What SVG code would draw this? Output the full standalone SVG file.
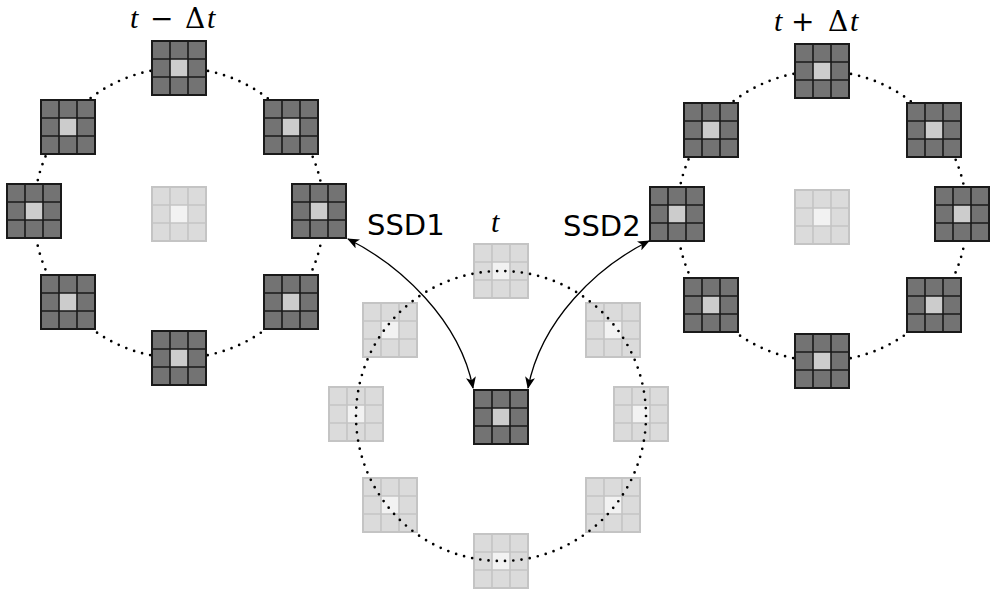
<svg xmlns="http://www.w3.org/2000/svg" xmlns:xlink="http://www.w3.org/1999/xlink" width="992" height="591" viewBox="0 0 992 591">
<style>
.dot{fill:none;stroke:#000;stroke-width:2.7;stroke-linecap:round;stroke-dasharray:0 8.282}
.arr{fill:none;stroke:#000;stroke-width:1.3;marker-start:url(#ah);marker-end:url(#ah)}
.faint{opacity:0.25}
.lbl{font-family:"DejaVu Sans",sans-serif;font-size:29px;fill:#000}
.it{font-family:"Liberation Serif",serif;font-style:italic;font-size:30px;fill:#000}
.op{font-family:"DejaVu Serif",serif;font-size:28px;fill:#000}
</style>
<defs>
<g id="patch">
<rect x="1" y="1" width="54" height="54" fill="#737373"/>
<rect x="19" y="19" width="18" height="18" fill="#cccccc"/>
<path d="M19 1V55M37 1V55M1 19H55M1 37H55" stroke="#1a1a1a" stroke-width="1.6" fill="none"/>
<rect x="1" y="1" width="54" height="54" fill="none" stroke="#1a1a1a" stroke-width="2"/>
</g>
<marker id="ah" viewBox="0 0 12 10" refX="11" refY="5" markerWidth="12" markerHeight="10" markerUnits="userSpaceOnUse" orient="auto-start-reverse">
<path d="M0 0L12 5L0 10L3 5Z" fill="#000"/>
</marker>
</defs>

<g id="group-t-minus">
<circle class="dot" cx="179" cy="213" r="145"/>
<use id="tm-top" xlink:href="#patch" x="151" y="40"/>
<use id="tm-ul" xlink:href="#patch" x="40" y="99"/>
<use id="tm-ur" xlink:href="#patch" x="263" y="99"/>
<use id="tm-l" xlink:href="#patch" x="6" y="183"/>
<use id="tm-r" xlink:href="#patch" x="291" y="183"/>
<use id="tm-ll" xlink:href="#patch" x="40" y="274"/>
<use id="tm-lr" xlink:href="#patch" x="263" y="274"/>
<use id="tm-b" xlink:href="#patch" x="151" y="330"/>
<use id="tm-c" class="faint" xlink:href="#patch" x="151" y="186"/>
<text class="it" x="130" y="28">t</text>
<text class="op" x="150" y="28">−</text>
<text class="op" x="185" y="28">Δ</text>
<text class="it" x="207" y="28">t</text>
</g>

<g id="group-t-plus">
<circle class="dot" cx="822" cy="216" r="145"/>
<use id="tp-top" xlink:href="#patch" x="794" y="43"/>
<use id="tp-ul" xlink:href="#patch" x="683" y="102"/>
<use id="tp-ur" xlink:href="#patch" x="906" y="102"/>
<use id="tp-l" xlink:href="#patch" x="649" y="186"/>
<use id="tp-r" xlink:href="#patch" x="934" y="186"/>
<use id="tp-ll" xlink:href="#patch" x="683" y="277"/>
<use id="tp-lr" xlink:href="#patch" x="906" y="277"/>
<use id="tp-b" xlink:href="#patch" x="794" y="333"/>
<use id="tp-c" class="faint" xlink:href="#patch" x="794" y="189"/>
<text class="it" x="774" y="31">t</text>
<text class="op" x="791" y="31">+</text>
<text class="op" x="828" y="31">Δ</text>
<text class="it" x="850" y="31">t</text>
</g>

<g id="group-t">
<use id="t-top" class="faint" xlink:href="#patch" x="473" y="243"/>
<use id="t-ul" class="faint" xlink:href="#patch" x="362" y="302"/>
<use id="t-ur" class="faint" xlink:href="#patch" x="585" y="302"/>
<use id="t-l" class="faint" xlink:href="#patch" x="328" y="386"/>
<use id="t-r" class="faint" xlink:href="#patch" x="613" y="386"/>
<use id="t-ll" class="faint" xlink:href="#patch" x="362" y="477"/>
<use id="t-lr" class="faint" xlink:href="#patch" x="585" y="477"/>
<use id="t-b" class="faint" xlink:href="#patch" x="473" y="533"/>
<circle class="dot" cx="501" cy="416" r="145"/>
<use id="t-c" xlink:href="#patch" x="473" y="389"/>
<text class="it" x="491" y="232">t</text>
</g>

<g id="connectors">
<path class="arr" d="M348 239C400 265 460 320 473 388"/>
<path class="arr" d="M649 241C597 267 541 320 528 388"/>
<text class="lbl" x="367" y="235">SSD1</text>
<text class="lbl" x="563" y="236">SSD2</text>
</g>
</svg>
